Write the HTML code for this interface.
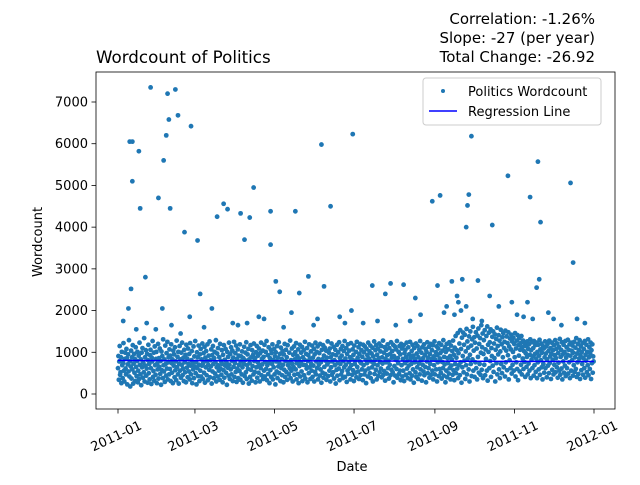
<!DOCTYPE html>
<html><head><meta charset="utf-8"><style>
html,body{margin:0;padding:0;background:#fff}
svg text{font-family:"DejaVu Sans","Liberation Sans",sans-serif;fill:#000}
</style></head><body>
<svg id="chart" width="640" height="480" viewBox="0 0 640 480">
<rect x="0" y="0" width="640" height="480" fill="#fff"/>
<g id="points"></g>
<g id="xaxis"></g>
<g id="yaxis"></g>
<line id="reg" stroke="#0000ff" stroke-width="1.5"/>
<rect x="96" y="72" width="519" height="337" fill="none" stroke="#000" stroke-width="0.8"/>
<text x="96" y="63" font-size="16.7">Wordcount of Politics</text>
<text x="595" y="24" font-size="15" text-anchor="end">Correlation: -1.26%</text>
<text x="595" y="43" font-size="15" text-anchor="end">Slope: -27 (per year)</text>
<text x="595" y="62" font-size="15" text-anchor="end">Total Change: -26.92</text>
<text x="352" y="471" font-size="13" text-anchor="middle">Date</text>
<text x="0" y="0" font-size="13" text-anchor="middle" transform="translate(42,242) rotate(-90)">Wordcount</text>
<g>
<rect x="423" y="78" width="178" height="47" rx="3" fill="#fff" fill-opacity="0.8" stroke="#ccc"/>
<circle cx="443" cy="91" r="2" fill="#1f77b4"/>
<text x="468" y="96" font-size="13">Politics Wordcount</text>
<line x1="429" y1="111" x2="457" y2="111" stroke="#0000ff" stroke-width="1.5"/>
<text x="468" y="116" font-size="13">Regression Line</text>
</g>
</svg>
<script>
const xTickDays=[0,59,120,181,243,304,365];
const xTickLabels=["2011-01","2011-03","2011-05","2011-07","2011-09","2011-11","2012-01"];
const yTicks=[0,1000,2000,3000,4000,5000,6000,7000];
const regStart=805, regEnd=778;
const outlierDays=[9,11,11,16,17,10,21,25,31,35,37,38,39,40,44,46,51,56,61,63,76,81,84,94,97,101,104,117,117,121,124,136,139,146,156,158,163,180,179,195,205,209,219,228,241,247,245,256,264,267,268,269,271,276,287,299,302,314,316,322,324,321,323,347,349,261,263,267,285,34,4,8,14,22,29,41,48,55,66,72,88,92,99,108,112,127,133,150,153,170,174,188,199,213,224,232,250,252,258,260,272,279,292,306,311,318,330,334,340,352,358];
const outlierCounts=[6050,6050,5100,5820,4450,2520,2800,7350,4700,5600,6200,7200,6580,4450,7300,6680,3880,6420,3680,2400,4250,4560,4430,4330,3700,4230,4950,4380,3580,2700,2450,4380,2420,2820,5980,2580,4500,6230,2000,2600,2400,2650,2620,2300,4620,4760,2600,2700,2750,4000,4520,4780,6180,2720,4050,5230,2200,2200,4720,5570,4120,2550,2750,5060,3150,2200,2000,2100,2350,2050,1750,2050,1550,1700,1550,1650,1450,1850,1600,2050,1700,1650,1700,1850,1800,1600,1950,1650,1800,1850,1700,1700,1750,1650,1750,1900,1950,2100,1900,2350,1800,1750,2100,1900,1850,1800,1950,1800,1650,1800,1700];
const bandCounts=[
620,910,340,780,1150,460,520,880,260,1010,690,380,740,1220,560,300,840,990,610,470,1080,860,230,710,
950,540,1290,420,780,180,660,1040,370,880,590,1170,250,730,960,510,840,310,1120,650,430,790,1010,280,
560,920,360,1230,700,470,830,210,990,640,1100,390,750,520,1340,300,880,680,1050,440,610,960,270,810,
1180,500,720,350,930,1060,620,240,870,780,1270,410,550,990,320,1140,690,460,840,1010,260,730,590,1200,
370,860,650,1090,480,790,220,1020,570,910,380,1310,690,540,830,290,1160,720,440,980,610,1250,350,760,
880,470,1070,600,920,310,1190,740,510,830,260,1040,680,950,400,1120,570,780,330,1280,640,890,470,1010,
250,720,1150,560,830,390,990,700,1230,450,610,870,310,1060,760,520,940,280,1180,630,850,400,1090,720,
540,960,350,1220,680,470,810,1030,260,740,590,1140,380,900,660,1270,500,770,230,1000,620,880,430,1160,
700,310,950,560,1080,420,830,680,1210,360,740,980,510,1130,270,870,640,1030,450,790,1190,330,700,920,
580,1260,400,810,660,1070,250,930,540,1150,720,380,860,1010,490,760,1290,300,640,970,420,1100,690,560,
880,340,1200,610,790,460,1050,720,280,940,570,1170,390,820,680,1080,510,750,220,1010,630,890,440,1230,
700,360,960,590,1120,470,800,1040,310,870,650,1250,410,740,980,530,1160,290,840,610,1070,380,920,700,
550,1190,340,780,900,470,1020,640,270,860,720,1130,430,810,990,520,1240,360,690,950,600,1080,250,830,
740,410,1170,580,880,320,1050,670,940,470,1210,790,530,860,280,1000,640,1150,390,760,920,510,1090,700,
300,980,620,1230,450,840,710,1040,360,890,560,1180,420,770,1010,600,1270,330,690,930,480,1120,750,260,
860,570,1060,410,980,720,1190,350,810,640,1080,470,900,230,1000,780,540,1150,380,870,660,1240,500,730,
960,310,1110,620,840,450,1030,700,280,950,580,1200,410,790,1060,530,880,340,1170,690,760,470,990,620,
1280,380,810,560,1090,720,300,940,650,1140,460,830,1000,590,1220,350,740,910,480,1070,260,850,670,1180,
420,760,990,540,1130,310,880,700,1050,450,820,1250,370,690,960,610,1100,280,790,930,500,1190,640,850,
360,1020,720,560,1160,410,870,680,1080,300,950,530,1230,470,780,1010,620,1140,350,840,700,980,440,1200,
590,760,270,1060,830,510,1170,390,920,650,1110,480,800,1040,340,870,710,1260,430,760,990,560,1090,300,
880,640,1210,460,780,950,520,1130,370,810,690,1060,250,930,580,1180,440,740,1000,610,1240,330,860,720,
1080,470,920,550,1150,380,790,1030,640,1270,410,850,700,1100,290,960,560,1190,480,770,1040,620,880,350,
1220,690,830,460,1070,570,940,310,1160,720,800,510,1010,400,1250,650,870,540,1120,360,960,780,1200,450,
740,1050,590,890,330,1180,690,1000,470,1140,560,820,260,1080,740,930,420,1230,610,850,1020,500,1160,380,
780,970,640,1110,300,900,720,1260,480,810,1050,580,1170,350,940,690,1090,430,860,1210,520,770,1020,610,
1150,400,880,730,1280,460,990,550,1120,320,840,760,1060,490,930,1190,620,800,370,1100,700,960,450,1240,
580,870,1030,520,1180,280,910,670,1140,440,820,1070,600,1270,390,860,740,1010,480,1150,560,950,330,1200,
690,1090,420,840,560,1170,310,980,740,1060,460,890,1230,610,800,380,1120,680,950,500,1250,350,860,720,
1030,440,1180,590,920,270,1100,760,840,520,1210,410,970,640,1150,360,880,730,1060,470,1270,590,810,990,
320,1120,700,860,540,1190,450,930,650,1080,280,1010,780,1240,500,870,620,1130,390,960,720,1200,460,840,
1050,560,1170,350,900,690,1260,470,820,1000,590,1140,300,930,760,1090,430,1220,600,850,980,510,1180,370,
770,1040,620,1290,440,890,710,1120,280,1010,560,1200,400,860,740,1070,490,1240,620,910,350,1160,680,830,
1030,460,1280,570,940,330,1110,720,1390,500,870,1050,610,1460,380,980,690,1210,450,1530,760,1080,270,1350,
640,910,1470,520,1180,800,1420,360,1020,690,1560,470,1260,850,1110,590,1380,300,940,1500,720,1160,430,1310,
830,1610,560,1040,1360,410,1230,760,1480,620,1090,350,1400,890,1570,510,1200,720,1340,460,990,1650,580,1120,
1450,380,960,1290,700,1530,450,1070,840,1390,560,1620,320,1180,1010,1470,620,1240,790,1550,410,1100,910,1370,
680,1500,530,1210,860,1430,300,1060,1320,740,1590,470,1150,950,1410,590,1280,380,1020,1540,720,1190,500,1360,
880,1460,640,1100,1250,420,1520,760,1040,1380,570,1220,930,1480,350,1140,810,1330,620,1070,1420,490,1260,700,
1010,1350,560,1200,880,1460,420,1090,760,1280,600,1410,330,1170,920,1340,540,1060,1220,700,1390,470,1120,850,
1280,600,1030,770,1210,410,980,1150,650,890,1260,470,1080,730,1190,560,940,1310,380,1050,820,1240,620,900,
1100,440,1270,690,960,1170,530,850,1230,380,1010,760,1180,590,920,1300,460,1070,810,1210,640,990,350,1150,
720,1090,510,880,1260,620,970,1140,400,830,1200,680,1030,500,1280,740,900,1100,360,960,1230,580,820,1050,
470,1170,700,930,1290,520,860,1080,640,1210,390,980,750,1130,560,1320,460,890,1060,610,1240,350,950,780,
1180,510,1010,680,1270,430,870,1120,620,940,1300,490,1060,760,1190,380,920,1230,560,1040,810,1160,440,990,
690,1250,530,880,1110,600,1340,410,970,760,1200,480,1050,850,1290,360,930,1140,570,1010,720,1220,460,860,
1080,620,1270,390,940,800,1180,520,1010,690,1310,450,880,1120,600,970,1230,360,1050,740,1190,510,900,780
];
const X=d=>118+d*(476/365);
const Y=v=>394-v*(292/7000);
const ns="http://www.w3.org/2000/svg";
const pts=document.getElementById('points');
function addPt(d,v){
  const c=document.createElementNS(ns,'circle');
  c.setAttribute('cx',X(d).toFixed(2));
  c.setAttribute('cy',Y(v).toFixed(2));
  c.setAttribute('r','2.4');
  c.setAttribute('fill','#1f77b4');
  
  
  pts.appendChild(c);
}
const stepDays=365/bandCounts.length;
bandCounts.forEach((v,i)=>addPt(i*stepDays,v));
outlierDays.forEach((d,i)=>addPt(d,outlierCounts[i]));
const reg=document.getElementById('reg');
reg.setAttribute('x1',X(0));
reg.setAttribute('x2',X(365));
reg.setAttribute('y1',Y(regStart));
reg.setAttribute('y2',Y(regEnd));
const xa=document.getElementById('xaxis');
xTickDays.forEach((d,i)=>{
  const l=document.createElementNS(ns,'line');
  l.setAttribute('x1',X(d));
  l.setAttribute('x2',X(d));
  l.setAttribute('y1',409);
  l.setAttribute('y2',413.5);
  l.setAttribute('stroke','#000');
  l.setAttribute('stroke-width','0.8');
  
  
  xa.appendChild(l);
  const t=document.createElementNS(ns,'text');
  t.setAttribute('font-size','13');
  t.setAttribute('text-anchor','middle');
  t.setAttribute('transform','translate('+X(d)+',440) rotate(-25)');
  t.textContent=xTickLabels[i];
  
  
  xa.appendChild(t);
});
const ya=document.getElementById('yaxis');
yTicks.forEach(v=>{
  const l=document.createElementNS(ns,'line');
  l.setAttribute('x1',91.5);
  l.setAttribute('x2',96);
  l.setAttribute('y1',Y(v));
  l.setAttribute('y2',Y(v));
  l.setAttribute('stroke','#000');
  l.setAttribute('stroke-width','0.8');
  
  
  ya.appendChild(l);
  const t=document.createElementNS(ns,'text');
  t.setAttribute('font-size','13');
  t.setAttribute('text-anchor','end');
  t.setAttribute('x',88);
  t.setAttribute('y',Y(v)+4.5);
  t.textContent=v;
  
  
  ya.appendChild(t);
});
</script>
</body></html>
